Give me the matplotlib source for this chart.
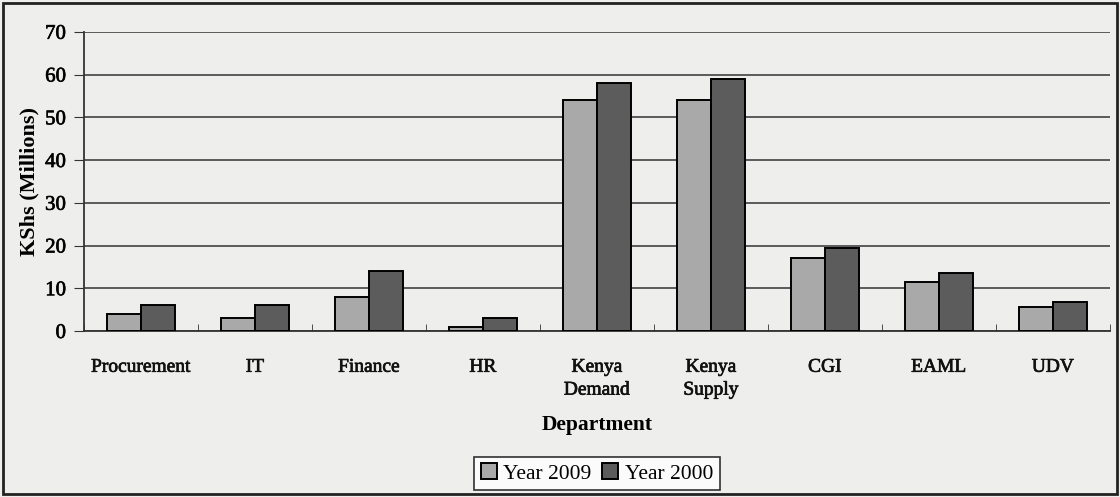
import matplotlib
matplotlib.use("Agg")
import matplotlib.pyplot as plt
import matplotlib.patheffects as pe
import numpy as np

departments = ["Procurement", "IT", "Finance", "HR", "Kenya\nDemand",
               "Kenya\nSupply", "CGI", "EAML", "UDV"]
year_2009 = [4, 3, 8, 1, 54, 54, 17, 11.5, 5.5]
year_2000 = [6, 6, 14, 3, 58, 59, 19.5, 13.5, 6.7]

plt.rcParams['font.family'] = ['Liberation Serif', 'DejaVu Serif']

fig = plt.figure(figsize=(11.2, 4.97), dpi=100)
fig.patch.set_facecolor("#eeeeec")
ax = fig.add_axes([0.075, 0.334, 0.916, 0.602])
ax.set_facecolor("none")

x = np.arange(len(departments))
w = 0.3
ax.bar(x - w / 2, year_2009, w, color="#a9a9a9", edgecolor="black",
       linewidth=1.4, label="Year 2009", zorder=3)
ax.bar(x + w / 2, year_2000, w, color="#5c5c5c", edgecolor="black",
       linewidth=1.4, label="Year 2000", zorder=3)

ax.set_xlim(-0.5, len(departments) - 0.5)
ax.set_ylim(0, 70)
ax.set_yticks(range(0, 71, 10))
ax.yaxis.grid(True, color="#333333", linewidth=1.1, zorder=0)
ax.set_axisbelow(True)

ax.set_xticks(x)
ax.set_xticklabels(departments, fontsize=14, linespacing=1.45, color="#111111")
ax.set_xticks(np.arange(-0.5, len(departments), 1), minor=True)
ax.tick_params(axis="x", which="major", length=0, pad=20)
ax.tick_params(axis="x", which="minor", length=5, direction="in", color="#333333")
ax.tick_params(axis="y", labelsize=15, length=7, pad=6, color="#333333")

# scanned text looks a little heavier
for t in ax.get_xticklabels() + ax.get_yticklabels():
    t.set_path_effects([pe.withStroke(linewidth=0.5, foreground="#111111")])

for s in ["top", "right"]:
    ax.spines[s].set_visible(False)
for s in ["left", "bottom"]:
    ax.spines[s].set_color("#333333")
    ax.spines[s].set_linewidth(1.3)

ax.set_ylabel("KShs (Millions)", fontsize=16, fontweight="bold", labelpad=4)
ax.set_xlabel("Department", fontsize=15.5, fontweight="bold", labelpad=12)

leg = ax.legend(loc="upper center", bbox_to_anchor=(0.5, -0.385), ncol=2,
                fontsize=15.5, frameon=True, fancybox=False, edgecolor="black",
                handlelength=0.75, handleheight=0.75, handletextpad=0.3,
                columnspacing=0.5, borderpad=0.3)
leg.get_frame().set_facecolor("white")
leg.get_frame().set_linewidth(1.2)

# outer frame of the chart area
fig.add_artist(plt.Rectangle((0.003, 0.006), 0.994, 0.988, transform=fig.transFigure,
                             fill=False, edgecolor="#222222", linewidth=2))

fig.savefig("out.png", dpi=100, facecolor=fig.get_facecolor())
